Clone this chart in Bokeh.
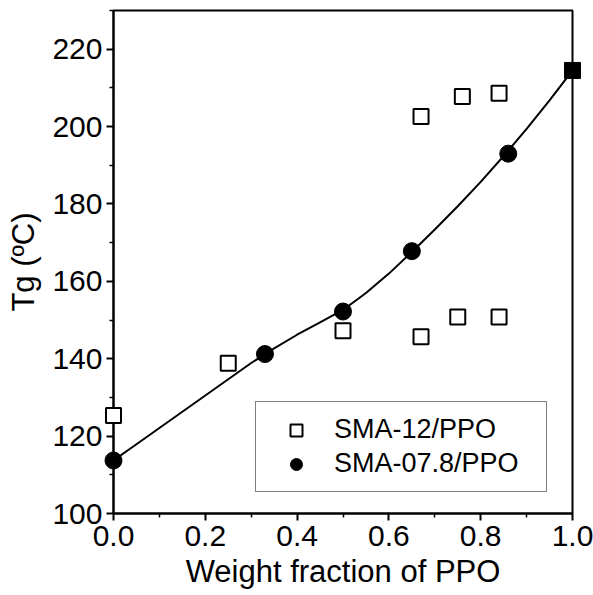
from bokeh.plotting import figure
from bokeh.models import Legend, LegendItem, FixedTicker, Range1d
from bokeh.embed import file_html
from bokeh.resources import INLINE

# Tg of SMA/PPO blends vs. weight fraction of PPO
sma12_w = [0.0, 0.25, 0.50, 0.67, 0.75, 0.84, 0.67, 0.76, 0.84]
sma12_tg = [125.3, 138.8, 147.2, 145.7, 150.8, 150.8, 202.6, 207.8, 208.6]

sma078_w = [0.0, 0.33, 0.50, 0.65, 0.86]
sma078_tg = [113.7, 141.2, 152.2, 167.8, 193.0]

ppo_w = [1.0]
ppo_tg = [214.5]

# fitted curve for SMA-07.8/PPO
fit_w = [0.0, 0.05, 0.1, 0.15, 0.2, 0.25, 0.3, 0.35, 0.4, 0.45, 0.5,
         0.55, 0.6, 0.65, 0.7, 0.75, 0.8, 0.85, 0.9, 0.95, 1.0]
fit_tg = [113.7, 117.9, 122.1, 126.3, 130.5, 134.7, 138.9, 142.7, 146.2, 149.4, 152.6,
          157.0, 162.0, 167.6, 173.4, 179.4, 185.7, 192.4, 199.4, 206.8, 214.5]

x_ticks = [0.0, 0.2, 0.4, 0.6, 0.8, 1.0]
y_ticks = [100, 120, 140, 160, 180, 200, 220]

FONT = "Liberation Sans"

p = figure(width=593, height=595, output_backend="svg", toolbar_location=None,
           x_range=Range1d(0.0, 1.0), y_range=Range1d(100, 230),
           min_border_left=113, min_border_right=21, min_border_top=10,
           min_border_bottom=82)
p.grid.visible = False
p.outline_line_color = "black"
p.outline_line_width = 2
p.background_fill_color = "white"
p.border_fill_color = "white"

fit = p.line(fit_w, fit_tg, line_color="black", line_width=2)
# markers sit on the overlay level so points on the axes are not cut off
r12 = p.scatter(sma12_w, sma12_tg, marker="square", size=15, fill_color="white",
                line_color="black", line_width=2, level="overlay")
r078 = p.scatter(sma078_w, sma078_tg, marker="circle", size=17, fill_color="black",
                 line_color="black", level="overlay")
p.scatter(ppo_w, ppo_tg, marker="square", size=16, fill_color="black",
          line_color="black", level="overlay")

for ax in (p.xaxis[0], p.yaxis[0]):
    ax.axis_line_width = 2
    ax.major_tick_line_width = 2
    ax.minor_tick_line_width = 1.5
    ax.major_tick_out = 7
    ax.major_tick_in = 0
    ax.minor_tick_out = 4
    ax.minor_tick_in = 0
    ax.major_label_text_font = FONT
    ax.major_label_text_font_size = "30px"
    ax.major_label_text_color = "black"
    ax.axis_label_text_font = FONT
    ax.axis_label_text_font_size = "31px"
    ax.axis_label_text_font_style = "normal"
    ax.axis_label_text_color = "black"

p.xaxis.ticker = FixedTicker(ticks=x_ticks, minor_ticks=[0.1, 0.3, 0.5, 0.7, 0.9])
p.yaxis.ticker = FixedTicker(ticks=y_ticks, minor_ticks=[110, 130, 150, 170, 190, 210, 230])
p.xaxis.major_label_overrides = {t: f"{t:.1f}" for t in x_ticks}
p.xaxis.major_label_standoff = 5
p.yaxis.major_label_standoff = 4
p.xaxis.axis_label = "Weight fraction of PPO"
p.yaxis.axis_label = "Tg (\u00baC)"
p.xaxis.axis_label_standoff = 5
p.yaxis.axis_label_standoff = 8

legend = Legend(items=[LegendItem(label="SMA-12/PPO", renderers=[r12]),
                       LegendItem(label="SMA-07.8/PPO", renderers=[r078])],
                location=(142, 21))
legend.label_text_font = FONT
legend.label_text_font_size = "27px"
legend.label_text_color = "black"
legend.border_line_color = "black"
legend.border_line_width = 1.5
legend.padding = 12
legend.margin = 0
legend.spacing = 3
legend.glyph_width = 56
legend.glyph_height = 30
legend.label_height = 30
legend.label_width = 200
legend.label_standoff = 10
legend.background_fill_alpha = 1
p.add_layout(legend, "center")

open("out.html", "w").write(file_html(p, INLINE))
